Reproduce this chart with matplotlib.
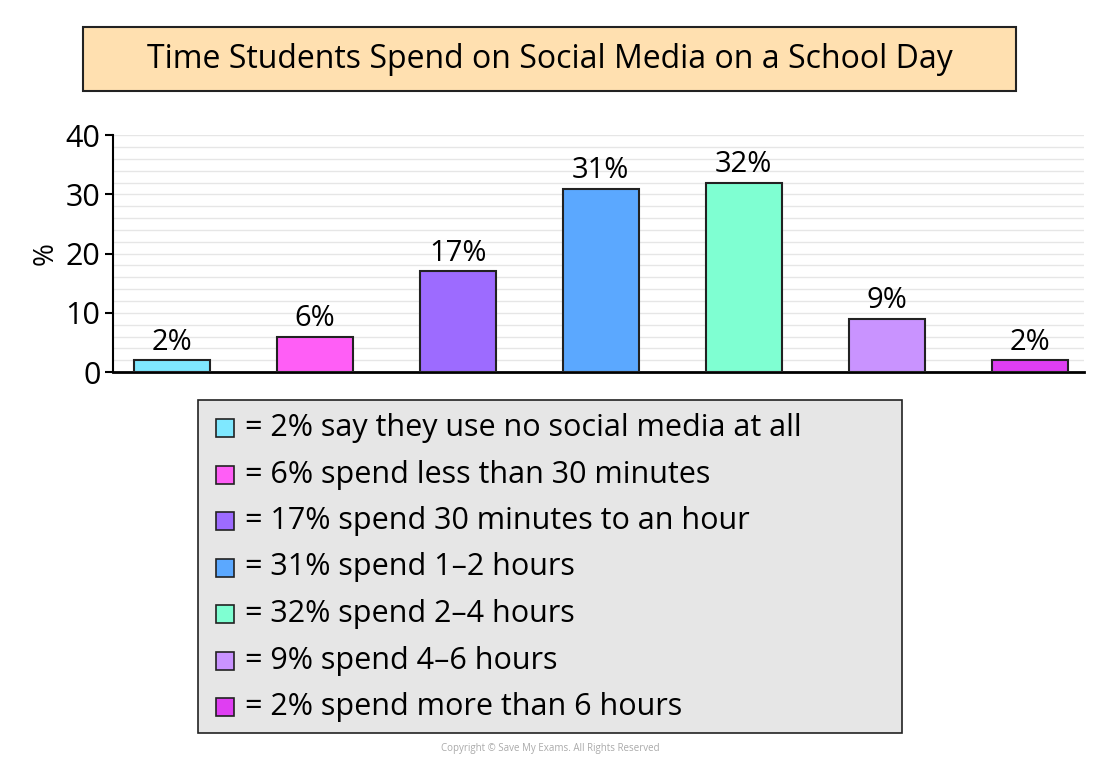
import matplotlib
matplotlib.use("Agg")
import matplotlib.pyplot as plt
from matplotlib.patches import Rectangle

values = [2, 6, 17, 31, 32, 9, 2]
labels = ["2%", "6%", "17%", "31%", "32%", "9%", "2%"]
legend_texts = ["= 2% say they use no social media at all",
                "= 6% spend less than 30 minutes",
                "= 17% spend 30 minutes to an hour",
                "= 31% spend 1–2 hours",
                "= 32% spend 2–4 hours",
                "= 9% spend 4–6 hours",
                "= 2% spend more than 6 hours"]
colors = ["#7FE8FF", "#FF5EF6", "#9D6BFF", "#5BA8FF", "#7FFFD2", "#C993FF", "#DF3EF2"]
title = "Time Students Spend on Social Media on a School Day"

plt.rcParams['font.family'] = ['Open Sans', 'DejaVu Sans']
fig = plt.figure(figsize=(11, 7.64), dpi=100)
ax = fig.add_axes([0.1027, 0.513, 0.883, 0.31])
x = list(range(len(values)))
ax.bar(x, values, width=0.53, color=colors, edgecolor="#222222", linewidth=1.5, zorder=3)
for xi, v, l in zip(x, values, labels):
    ax.text(xi, v + 0.6, l, ha="center", va="bottom", fontsize=21)
ax.set_xlim(-0.41, 6.38)
ax.set_ylim(0, 40)
ax.set_yticks([0, 10, 20, 30, 40])
ax.set_yticks(range(0, 41, 2), minor=True)
ax.grid(axis="y", which="both", color="#e6e6e6", linewidth=1, zorder=0)
ax.tick_params(axis="y", labelsize=22, length=6, width=1.5, pad=3)
ax.tick_params(axis="y", which="minor", length=0)
ax.set_xticks([])
for s in ["top", "right"]:
    ax.spines[s].set_visible(False)
ax.spines["left"].set_linewidth(1.5)
ax.spines["bottom"].set_linewidth(2)
ax.set_ylabel("%", fontsize=20, labelpad=4)

# title box
fig.patches.append(Rectangle((83/1100, 1-91/764), 933/1100, 64/764, transform=fig.transFigure,
                             facecolor="#FFE0B0", edgecolor="#222222", linewidth=1.5))
fig.text(549.5/1100, 1-59/764, title, ha="center", va="center", fontsize=23)

# legend box
fig.patches.append(Rectangle((198/1100, 1-733/764), 704/1100, 333/764, transform=fig.transFigure,
                             facecolor="#E6E6E6", edgecolor="#222222", linewidth=1.2))
for i, (c, t) in enumerate(zip(colors, legend_texts)):
    yc = 428 + i * 46.5
    fig.patches.append(Rectangle((216/1100, 1-(yc+9)/764), 18/1100, 18/764, transform=fig.transFigure,
                                 facecolor=c, edgecolor="#222222", linewidth=1.2))
    fig.text(245/1100, 1-yc/764, t, ha="left", va="center", fontsize=22)

fig.text(550/1100, 1-748/764, "Copyright © Save My Exams. All Rights Reserved",
         ha="center", va="center", fontsize=7, color="#aaaaaa")
fig.savefig("out.png", dpi=100)
